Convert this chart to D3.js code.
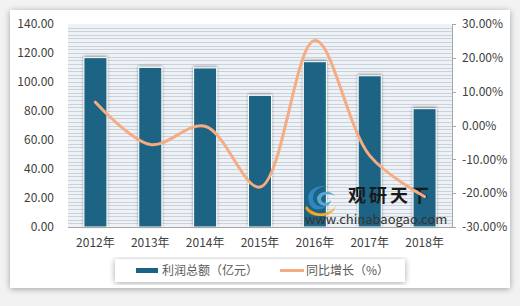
<!DOCTYPE html>
<html>
<head>
<meta charset="utf-8">
<script src="https://cdn.jsdelivr.net/npm/d3@7"></script>
<style>
  body { margin: 0; background: #fff; }
  svg text { font-family: "Noto Sans CJK SC", "Open Sans", sans-serif; }
</style>
</head>
<body>
<svg id="chart" width="520" height="306"></svg>
<script>
"use strict";

var years = ["2012年", "2013年", "2014年", "2015年", "2016年", "2017年", "2018年"];
var profit = [116.8, 110.1, 109.7, 90.8, 114.0, 104.3, 81.6];
var growth = [6.9, -5.6, -0.2, -18.2, 25.1, -8.9, -21.0];
var leftTicks = [0, 20, 40, 60, 80, 100, 120, 140];
var rightTicks = [-30, -20, -10, 0, 10, 20, 30];

var svg = d3.select("#chart");
var margin = { top: 24, right: 68, bottom: 79, left: 68 };
var width = 520 - margin.left - margin.right;
var height = 306 - margin.top - margin.bottom;

var defs = svg.append("defs");

// card shadow
var f = defs.append("filter").attr("id", "shadow")
  .attr("x", "-10%").attr("y", "-10%").attr("width", "120%").attr("height", "120%");
f.append("feGaussianBlur").attr("in", "SourceAlpha").attr("stdDeviation", 3);
f.append("feOffset").attr("dx", 0).attr("dy", 1).attr("result", "b");
f.append("feComponentTransfer").append("feFuncA").attr("type", "linear").attr("slope", 0.35);
var fm = f.append("feMerge");
fm.append("feMergeNode");
fm.append("feMergeNode").attr("in", "SourceGraphic");

var bf = defs.append("filter").attr("id", "barglow")
  .attr("x", "-30%").attr("y", "-10%").attr("width", "160%").attr("height", "120%");
bf.append("feGaussianBlur").attr("in", "SourceAlpha").attr("stdDeviation", 1.5);
bf.append("feOffset").attr("dx", 0).attr("dy", -1);
bf.append("feComponentTransfer").append("feFuncA").attr("type", "linear").attr("slope", 0.4);
var bm = bf.append("feMerge");
bm.append("feMergeNode");
bm.append("feMergeNode").attr("in", "SourceGraphic");

// background + card
svg.append("rect").attr("width", 520).attr("height", 306).attr("fill", "#f2f2f2");
svg.append("rect").attr("x", 10).attr("y", 10).attr("width", 500).attr("height", 278)
  .attr("fill", "#fff").attr("filter", "url(#shadow)");

var g = svg.append("g").attr("transform", "translate(" + margin.left + "," + margin.top + ")");

var x = d3.scaleBand().domain(years).range([0, width]).paddingInner(0.58).paddingOuter(0.29);
var yL = d3.scaleLinear().domain([0, 140]).range([height, 0]);
var yR = d3.scaleLinear().domain([-30, 30]).range([height, 0]);

// plot background with fine stripes
g.append("rect").attr("width", width).attr("height", height).attr("fill", "#eef2f6");
g.append("g")
  .selectAll("line")
  .data(d3.range(0, 140, 2.5))
  .enter()
  .append("line")
  .attr("x1", 0).attr("x2", width)
  .attr("y1", function (d) { return Math.round(yL(d)) + 0.5; })
  .attr("y2", function (d) { return Math.round(yL(d)) + 0.5; })
  .attr("stroke", "#c9d2db").attr("stroke-width", 1);

// bars
g.selectAll(".bar")
  .data(profit)
  .enter()
  .append("rect")
  .attr("class", "bar")
  .attr("x", function (d, i) { return x(years[i]); })
  .attr("width", x.bandwidth())
  .attr("y", function (d) { return yL(d); })
  .attr("height", function (d) { return height - yL(d); })
  .attr("fill", "#1b6384")
  .attr("stroke", "#ffffff").attr("stroke-width", 1)
  .attr("filter", "url(#barglow)");

// x axis line
g.append("line").attr("x1", 0).attr("x2", width).attr("y1", height + 0.5).attr("y2", height + 0.5)
  .attr("stroke", "#a6a6a6");

// watermark
var wm = g.append("g").attr("transform", "translate(237,158)");
wm.append("path").attr("d", "M4,20 C0,8 14,0 28,6 C20,2 8,6 8,16 C8,22 14,26 22,24 C14,30 6,28 4,20Z")
  .attr("fill", "#2f86c1");
wm.append("path").attr("d", "M12,16 C14,8 26,8 30,14 C24,10 16,12 16,18 C18,22 24,22 26,18 C26,26 12,26 12,16Z")
  .attr("fill", "#5aa7d6");
wm.append("path").attr("d", "M2,24 C8,34 26,34 32,22 C26,36 6,38 0,26Z")
  .attr("fill", "#f39c1e");
wm.append("path").attr("d", "M6,28 C14,36 26,32 30,26 C28,34 12,38 6,28Z")
  .attr("fill", "#f7b731");
wm.append("text").attr("x", 43).attr("y", 20).attr("font-size", 18).attr("font-weight", "bold")
  .attr("fill", "#1a1a1a").attr("letter-spacing", 3).text("观研天下");
wm.append("text").attr("x", 0).attr("y", 42).attr("font-size", 13)
  .attr("font-family", "Liberation Sans, Arial, sans-serif")
  .attr("fill", "#333").text("www.chinabaogao.com");

// line
var line = d3.line()
  .x(function (d, i) { return x(years[i]) + x.bandwidth() / 2; })
  .y(function (d) { return yR(d); })
  .curve(d3.curveCatmullRom.alpha(0.5));

g.append("path")
  .datum(growth)
  .attr("d", line)
  .attr("fill", "none")
  .attr("stroke", "#f5ac82")
  .attr("stroke-width", 3)
  .attr("stroke-linecap", "round");

// left axis labels
g.append("g").selectAll("text")
  .data(leftTicks)
  .enter()
  .append("text")
  .attr("x", -14).attr("y", function (d) { return yL(d); })
  .attr("dy", "0.35em").attr("text-anchor", "end")
  .attr("font-size", 12).attr("fill", "#404040")
  .text(function (d) { return d.toFixed(2); });

// right axis
var ra = g.append("g").attr("transform", "translate(" + width + ",0)");
ra.append("line").attr("x1", 0.5).attr("x2", 0.5).attr("y1", 0).attr("y2", height).attr("stroke", "#a6a6a6");
ra.selectAll(".rt")
  .data(rightTicks)
  .enter()
  .append("line")
  .attr("x1", 0).attr("x2", 4)
  .attr("y1", function (d) { return Math.round(yR(d)) + 0.5; })
  .attr("y2", function (d) { return Math.round(yR(d)) + 0.5; })
  .attr("stroke", "#a6a6a6");
ra.selectAll("text")
  .data(rightTicks)
  .enter()
  .append("text")
  .attr("x", 10).attr("y", function (d) { return yR(d); })
  .attr("dy", "0.35em").attr("font-size", 12).attr("fill", "#404040")
  .text(function (d) { return d.toFixed(2) + "%"; });

// x labels
g.append("g").selectAll("text")
  .data(years)
  .enter()
  .append("text")
  .attr("x", function (d) { return x(d) + x.bandwidth() / 2; })
  .attr("y", height + 20)
  .attr("text-anchor", "middle").attr("font-size", 12).attr("fill", "#404040")
  .text(function (d) { return d; });

// legend
var lg = svg.append("g");
lg.append("rect").attr("x", 115).attr("y", 259).attr("width", 290).attr("height", 23)
  .attr("fill", "#fff").attr("filter", "url(#shadow)");
lg.append("rect").attr("x", 136).attr("y", 268).attr("width", 22).attr("height", 5).attr("fill", "#1b6384");
lg.append("text").attr("x", 162).attr("y", 271).attr("dy", "0.35em").attr("font-size", 12)
  .attr("fill", "#595959").text("利润总额（亿元）");
lg.append("line").attr("x1", 280).attr("x2", 304).attr("y1", 270.5).attr("y2", 270.5)
  .attr("stroke", "#f5ac82").attr("stroke-width", 3);
lg.append("text").attr("x", 306).attr("y", 271).attr("dy", "0.35em").attr("font-size", 12)
  .attr("fill", "#595959").text("同比增长（%）");
</script>
</body>
</html>
